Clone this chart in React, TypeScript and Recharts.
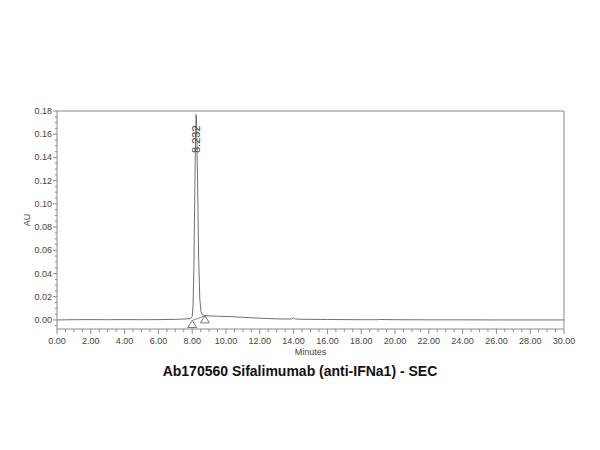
import { LineChart, Line, XAxis, YAxis, ReferenceDot, ReferenceLine, Label } from "recharts"

// chromatogram trace (minutes, AU)
const minutes = [
  0, 1, 2, 3, 4, 5, 6, 7, 7.5, 7.9, 8.0, 8.05, 8.1, 8.15, 8.2, 8.232, 8.27, 8.32, 8.38,
  8.45, 8.52, 8.6, 8.75, 9.0, 9.5, 10, 11, 12, 13, 13.9, 14.0, 14.1, 14.5, 15, 16, 17,
  18, 19, 19.1, 20, 22, 24, 26, 28, 30,
]
const au = [
  0.0, 0.0002, 0.0003, 0.0002, 0.0003, 0.0002, 0.0003, 0.0005, 0.0008, 0.0012, 0.003, 0.012,
  0.045, 0.105, 0.162, 0.177, 0.163, 0.118, 0.055, 0.018, 0.007, 0.0045, 0.0038, 0.0035,
  0.0032, 0.003, 0.0023, 0.0015, 0.0009, 0.0008, 0.0017, 0.0008, 0.0006, 0.0005, 0.0004,
  0.0003, 0.0002, 0.0002, 0.0004, 0.0002, 0.0001, 0.0001, 0.0, 0.0, 0.0,
]

const peakTime = 8.232
const peakAU = 0.177
const peakLabel = "8.232"

// integration start / end markers
const markerTimes = [8.0, 8.75]
const markerAU = [-0.0005, 0.0035]

const xMajor = [0, 2, 4, 6, 8, 10, 12, 14, 16, 18, 20, 22, 24, 26, 28, 30]
const yMajor = [0, 0.02, 0.04, 0.06, 0.08, 0.1, 0.12, 0.14, 0.16, 0.18]

const title = "Ab170560 Sifalimumab (anti-IFNa1) - SEC"

const data = minutes.map((t, i) => ({ t, v: au[i] }))

// split each major step into 4 for the minor tick marks
const splitTicks = (major: number[], extraBelow: boolean) => {
  const out: number[] = []
  const step = (major[1] - major[0]) / 4
  if (extraBelow) out.push(+(major[0] - step).toFixed(4))
  major.forEach((m, i) => {
    out.push(m)
    if (i < major.length - 1) {
      for (let k = 1; k < 4; k++) out.push(+(m + k * step).toFixed(4))
    }
  })
  return out
}
const xTicks = splitTicks(xMajor, false)
const yTicks = splitTicks(yMajor, true)

const FONT = "'Liberation Sans', Arial, sans-serif"
const AXIS = "#8a8a8a"

const isMajor = (v: number, list: number[]) => list.some((m) => Math.abs(m - v) < 1e-6)

const XTick = ({ x, y, payload }: any) => {
  const major = isMajor(payload.value, xMajor)
  return (
    <g>
      <line x1={x} x2={x} y1={y} y2={y + (major ? 5 : 3)} stroke={AXIS} />
      {major && (
        <text x={x} y={y + 15} textAnchor="middle" fontSize={9} fill="#444" fontFamily={FONT}>
          {payload.value.toFixed(2)}
        </text>
      )}
    </g>
  )
}

const YTick = ({ x, y, payload }: any) => {
  const major = isMajor(payload.value, yMajor)
  return (
    <g>
      <line x1={x - (major ? 4 : 2)} x2={x} y1={y} y2={y} stroke={AXIS} />
      {major && (
        <text x={x - 5} y={y + 3} textAnchor="end" fontSize={9} fill="#444" fontFamily={FONT}>
          {payload.value.toFixed(2)}
        </text>
      )}
    </g>
  )
}

const Triangle = ({ cx, cy }: any) => (
  <path d={`M${cx},${cy} L${cx - 4.5},${cy + 7} L${cx + 4.5},${cy + 7} Z`} fill="#fff" stroke="#777" />
)

const PeakText = ({ cx, cy }: any) => (
  <text
    x={cx + 4}
    y={cy + 11}
    transform={`rotate(-90 ${cx + 4} ${cy + 11})`}
    textAnchor="end"
    fontSize={11}
    fill="#444"
    fontFamily={FONT}
  >
    {peakLabel}
  </text>
)

export default function App() {
  return (
    <div style={{ position: "absolute", left: 0, top: 0, width: 600, height: 450, background: "#fff" }}>
      <LineChart
        width={600}
        height={450}
        data={data}
        margin={{ top: 111, right: 36, bottom: 120, left: 56 }}
      >
        <XAxis
          dataKey="t"
          type="number"
          domain={[0, 30]}
          ticks={xTicks}
          interval={0}
          height={1}
          tickSize={0}
          tickMargin={0}
          tickLine={false}
          tick={<XTick />}
          stroke={AXIS}
        >
          <Label
            content={({ viewBox }: any) => (
              <text
                x={viewBox.x + viewBox.width / 2}
                y={viewBox.y + 26}
                textAnchor="middle"
                fontSize={9}
                fill="#444"
                fontFamily={FONT}
              >
                Minutes
              </text>
            )}
          />
        </XAxis>
        <YAxis
          type="number"
          domain={[-0.0078, 0.18]}
          ticks={yTicks}
          interval={0}
          width={1}
          tickSize={0}
          tickMargin={0}
          tickLine={false}
          tick={<YTick />}
          stroke={AXIS}
          allowDataOverflow
        >
          <Label
            content={({ viewBox }: any) => {
              const cx = viewBox.x - 26
              const cy = viewBox.y + viewBox.height / 2
              return (
                <text
                  x={cx}
                  y={cy}
                  transform={`rotate(-90 ${cx} ${cy})`}
                  textAnchor="middle"
                  fontSize={9}
                  fill="#444"
                  fontFamily={FONT}
                >
                  AU
                </text>
              )
            }}
          />
        </YAxis>
        <ReferenceLine y={0.18} stroke={AXIS} />
        <ReferenceLine x={30} stroke={AXIS} />
        <ReferenceLine
          segment={[
            { x: markerTimes[0], y: markerAU[0] },
            { x: markerTimes[1], y: markerAU[1] },
          ]}
          stroke="#888"
        />
        <Line
          type="linear"
          dataKey="v"
          stroke="#707070"
          strokeWidth={1}
          dot={false}
          isAnimationActive={false}
        />
        {markerTimes.map((t, i) => (
          <ReferenceDot key={i} x={t} y={markerAU[i]} shape={<Triangle />} />
        ))}
        <ReferenceDot x={peakTime} y={peakAU} shape={<PeakText />} />
      </LineChart>
      <div
        style={{
          position: "absolute",
          left: 0,
          top: 363,
          width: 600,
          textAlign: "center",
          fontFamily: FONT,
          fontWeight: "bold",
          fontSize: 14,
          color: "#111",
        }}
      >
        {title}
      </div>
    </div>
  )
}
